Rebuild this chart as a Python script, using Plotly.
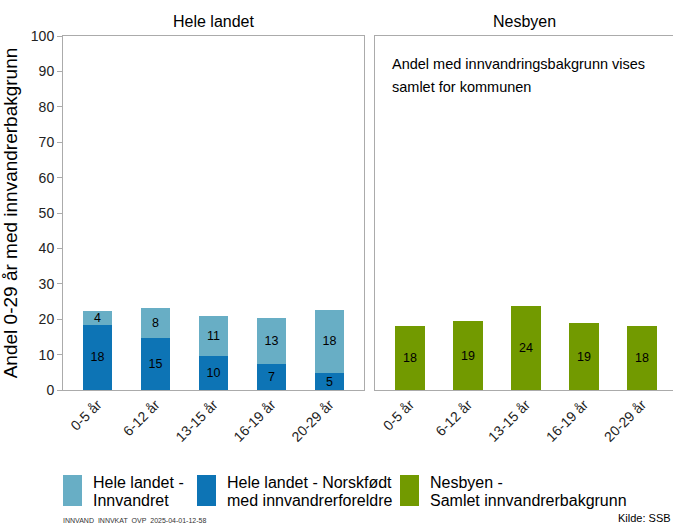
import plotly.graph_objects as go

categories = ["0-5 år", "6-12 år", "13-15 år", "16-19 år", "20-29 år"]
hele_innvandret = [4.0, 8.4, 11.2, 13.1, 17.9]
hele_norskfodt = [18.4, 14.7, 9.7, 7.3, 4.8]
nesbyen_samlet = [18.0, 19.4, 23.6, 18.8, 18.0]

series_names = ["Hele landet -<br>Innvandret",
                "Hele landet - Norskfødt<br>med innvandrerforeldre",
                "Nesbyen -<br>Samlet innvandrerbakgrunn"]
colors = ["#68AEC5", "#0D74B5", "#729A00"]
panel_titles = ["Hele landet", "Nesbyen"]
note_lines = ["Andel med innvandringsbakgrunn vises", "samlet for kommunen"]
y_title = "Andel 0-29 år med innvandrerbakgrunn"
footer_left = "INNVAND_INNVKAT_OVP_2025-04-01-12-58"
footer_right = "Kilde: SSB"

FONT = "Arial, Liberation Sans, sans-serif"
W, H = 673, 524
L, R, T, B = 63, 0, 36, 134
PW = W - L - R
PH = H - T - B

fig = go.Figure()
txt = dict(size=12.5, color="black", family=FONT)
common = dict(width=0.51, texttemplate="%{y:.0f}", textposition="inside",
              insidetextanchor="middle", textangle=0, textfont=txt,
              constraintext="none", showlegend=False, hoverinfo="skip")
fig.add_trace(go.Bar(x=categories, y=hele_norskfodt, name=series_names[1],
                     marker=dict(color=colors[1], line=dict(width=0)),
                     xaxis="x", yaxis="y", **common))
fig.add_trace(go.Bar(x=categories, y=hele_innvandret, name=series_names[0],
                     marker=dict(color=colors[0], line=dict(width=0)),
                     xaxis="x", yaxis="y", **common))
fig.add_trace(go.Bar(x=categories, y=nesbyen_samlet, name=series_names[2],
                     marker=dict(color=colors[2], line=dict(width=0)),
                     xaxis="x2", yaxis="y2", **common))

d1 = [0, 301 / PW]
d2 = [(375 - L) / PW, 1]
axcol = "#ababab"
tickfont = dict(size=14, color="#222", family=FONT)

fig.update_layout(
    width=W, height=H, autosize=False,
    margin=dict(l=L, r=R, t=T, b=B),
    paper_bgcolor="white", plot_bgcolor="white",
    barmode="stack",
    font=dict(family=FONT, color="black"),
    uniformtext=dict(minsize=12, mode="show"),
    xaxis=dict(domain=d1, range=[-0.595, 4.595], showline=True, linecolor=axcol,
               linewidth=1, mirror=True, ticks="", tickangle=-45, tickfont=tickfont,
               showgrid=False, zeroline=False, fixedrange=True),
    yaxis=dict(domain=[0, 1], range=[0, 100], dtick=10, showline=True, linecolor=axcol,
               linewidth=1, mirror=True, ticks="outside", ticklen=5, tickcolor=axcol,
               tickfont=tickfont, showgrid=False, zeroline=False,
               title=dict(text=y_title, font=dict(size=19, family=FONT, color="black"),
                          standoff=8)),
    xaxis2=dict(domain=d2, range=[-0.603, 4.534], showline=True, linecolor=axcol,
                linewidth=1, mirror=True, ticks="", tickangle=-45, tickfont=tickfont,
                showgrid=False, zeroline=False, anchor="y2"),
    yaxis2=dict(domain=[0, 1], range=[0, 100], showline=True, linecolor=axcol,
                linewidth=1, mirror=False, showticklabels=False, ticks="",
                showgrid=False, zeroline=False, anchor="x2"),
)

def px_x(p):
    return (p - L) / PW

def px_y(p):
    return 1 - (p - T) / PH

ann = []
ann.append(dict(text=panel_titles[0], x=px_x(213.5), y=px_y(21), xref="paper", yref="paper",
                xanchor="center", yanchor="middle", showarrow=False,
                font=dict(size=16, family=FONT, color="black")))
ann.append(dict(text=panel_titles[1], x=px_x(524), y=px_y(21), xref="paper", yref="paper",
                xanchor="center", yanchor="middle", showarrow=False,
                font=dict(size=16, family=FONT, color="black")))
for i, line in enumerate(note_lines):
    ann.append(dict(text=line, x=px_x(390), y=px_y(64 + 23 * i), xref="paper", yref="paper",
                    xanchor="left", yanchor="middle", showarrow=False,
                    font=dict(size=14.5, family=FONT, color="black")))

# custom legend
shapes = []
legend_items = [(63, series_names[0], colors[0]),
                (197, series_names[1], colors[1]),
                (400, series_names[2], colors[2])]
for x0, name, col in legend_items:
    shapes.append(dict(type="rect", xref="paper", yref="paper",
                       x0=px_x(x0), x1=px_x(x0 + 19), y0=px_y(475), y1=px_y(506),
                       fillcolor=col, line=dict(width=0)))
    for j, part in enumerate(name.split("<br>")):
        ann.append(dict(text=part, x=px_x(x0 + 28), y=px_y(482 + 18.5 * j),
                        xref="paper", yref="paper",
                        xanchor="left", yanchor="middle", align="left", showarrow=False,
                        font=dict(size=16, family=FONT, color="black")))

ann.append(dict(text=footer_left, x=px_x(61), y=px_y(520.5), xref="paper", yref="paper",
                xanchor="left", yanchor="middle", showarrow=False,
                font=dict(size=7, family=FONT, color="#333")))
ann.append(dict(text=footer_right, x=1, y=px_y(518), xref="paper", yref="paper",
                xanchor="right", yanchor="middle", showarrow=False,
                font=dict(size=11, family=FONT, color="black")))

fig.update_layout(annotations=ann, shapes=shapes)
fig.write_html("out.html", config={"displayModeBar": False},
               post_script="document.body.style.margin='0';document.body.style.overflow='hidden';")
